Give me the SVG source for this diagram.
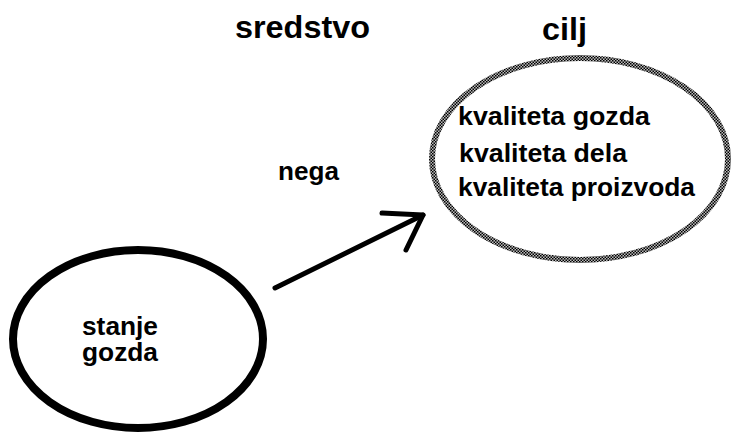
<svg xmlns="http://www.w3.org/2000/svg" width="733" height="434" viewBox="0 0 733 434">
<defs>
<pattern id="dots" width="3" height="3" patternUnits="userSpaceOnUse">
<rect width="3" height="3" fill="#bbb"/>
<rect width="1.5" height="1.5" fill="#000"/>
<rect x="1.5" y="1.5" width="1.5" height="1.5" fill="#000"/>
</pattern>
</defs>
<style>
text{font-family:"Liberation Sans",Arial,sans-serif;font-weight:bold;fill:#000}
.h{font-size:31px}
.t{font-size:25px}
.c{stroke:#000;stroke-linecap:round;stroke-linejoin:round;fill:none}
</style>
<rect width="733" height="434" fill="#fff"/>
<g id="title-sredstvo"><text class="h" x="235" y="38" textLength="135" lengthAdjust="spacingAndGlyphs">sredstvo</text></g>
<g id="title-cilj"><text class="h" x="542" y="40" textLength="45" lengthAdjust="spacingAndGlyphs">cilj</text></g>
<g id="node-cilj">
<ellipse cx="580" cy="159" rx="148" ry="101" fill="none" stroke="url(#dots)" stroke-width="6"/>
<text class="t" x="458" y="125" textLength="192" lengthAdjust="spacingAndGlyphs">kvaliteta gozda</text>
<text class="t" x="459" y="162" textLength="168" lengthAdjust="spacingAndGlyphs">kvaliteta dela</text>
<text class="t" x="458" y="196" textLength="237" lengthAdjust="spacingAndGlyphs">kvaliteta proizvoda</text>
</g>
<g id="node-stanje">
<ellipse cx="138" cy="339" rx="125" ry="89" fill="none" stroke="#000" stroke-width="8"/>
<text class="t" x="82" y="335" textLength="76" lengthAdjust="spacingAndGlyphs">stanje</text>
<text class="t" x="82" y="361" textLength="76" lengthAdjust="spacingAndGlyphs">gozda</text>
</g>
<g id="connectors">
<path class="c" d="M275 288 L423 215" stroke-width="5"/>
<path class="c" d="M382 213 L423 215 L406 250" stroke-width="5"/>
<text class="t" x="278" y="180" textLength="61" lengthAdjust="spacingAndGlyphs">nega</text>
</g>
</svg>
